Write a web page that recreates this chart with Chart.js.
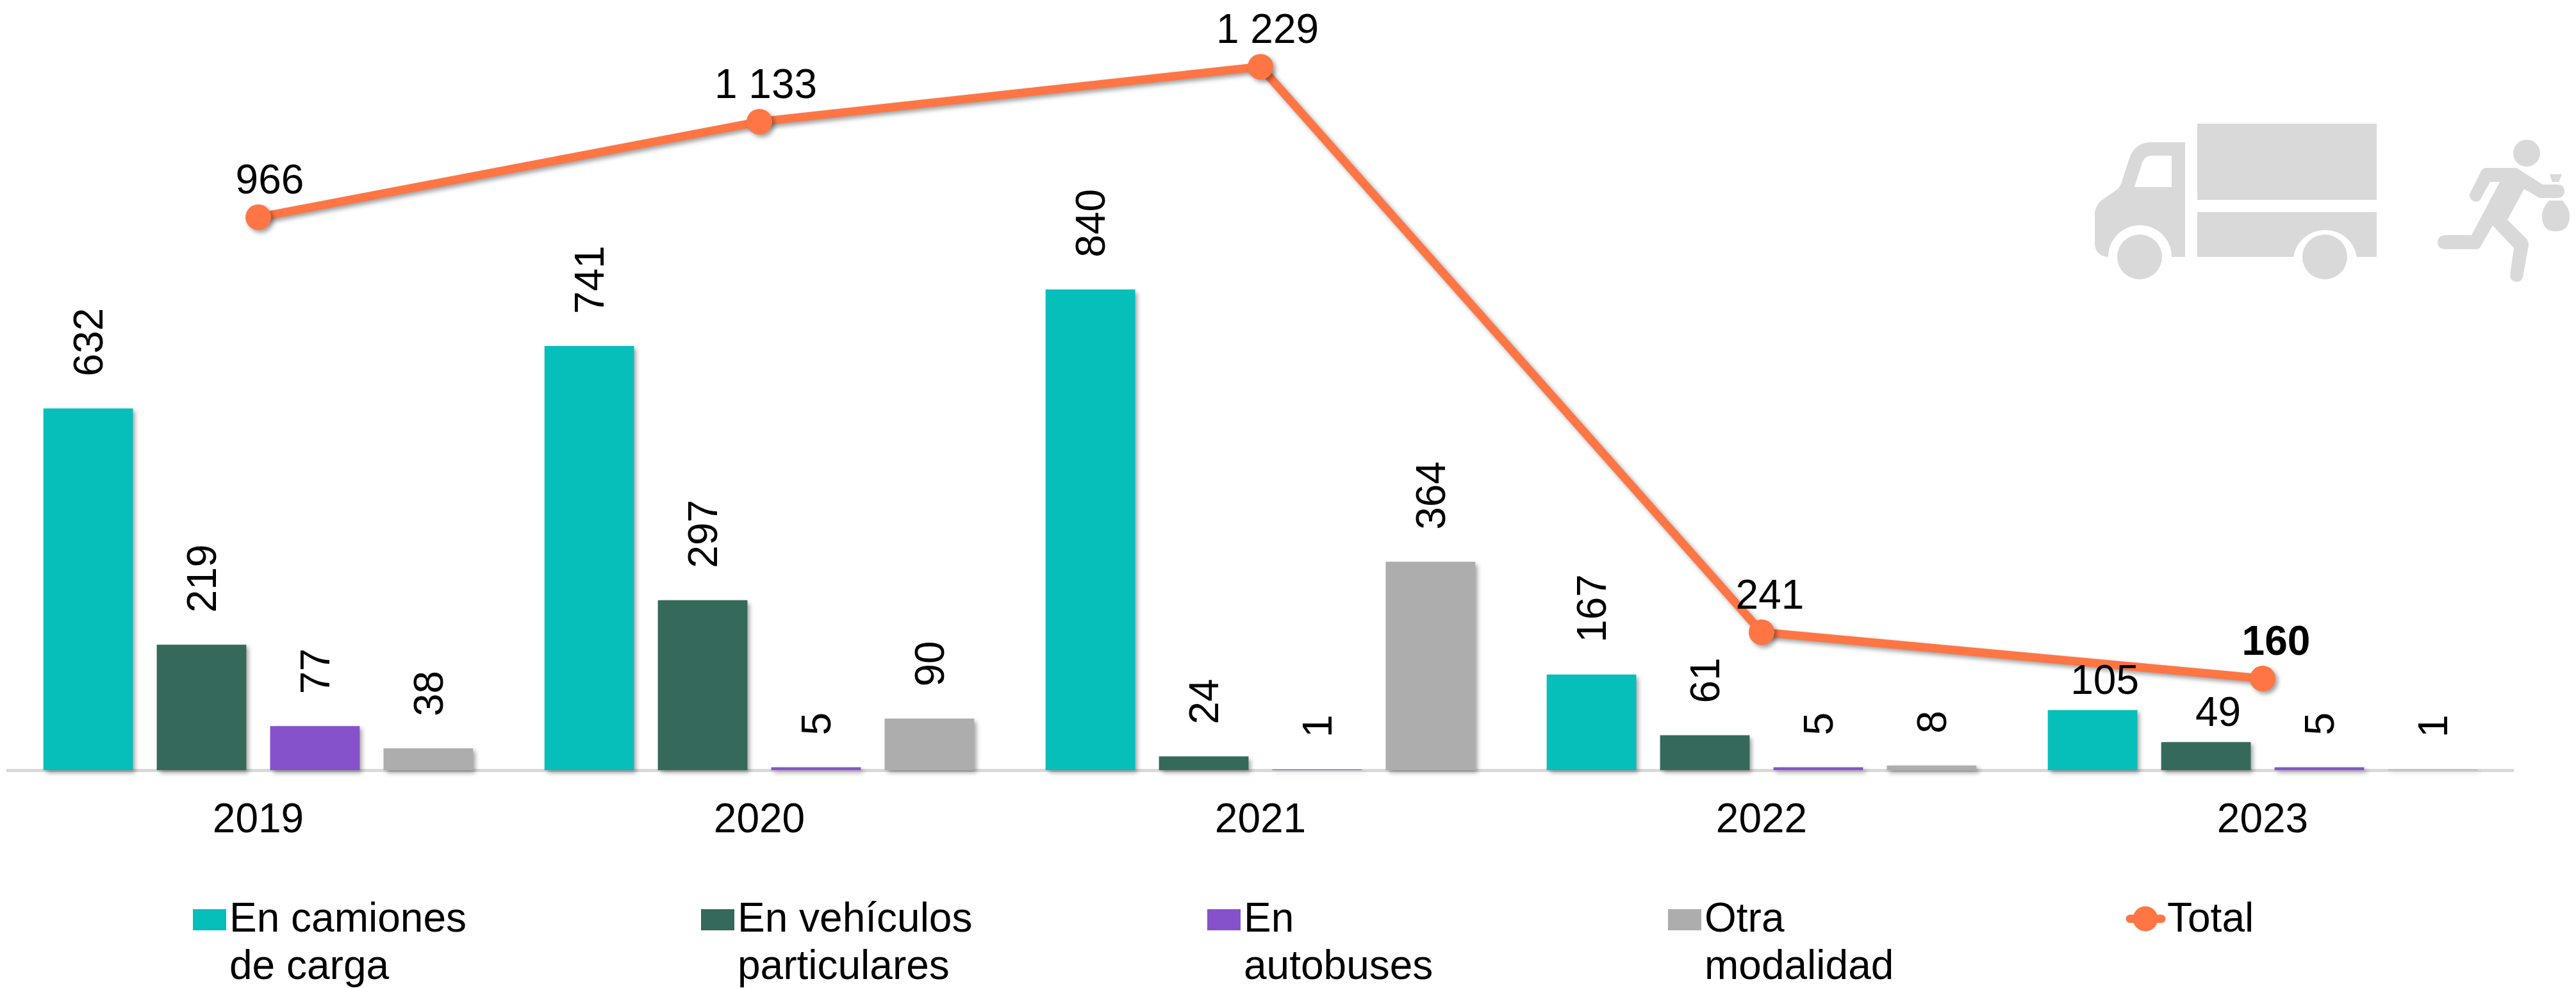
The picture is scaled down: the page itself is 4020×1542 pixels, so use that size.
<!DOCTYPE html>
<html><head><meta charset="utf-8">
<style>html,body{margin:0;padding:0;background:#fff;overflow:hidden}#w{position:relative;width:4020px;height:1542px}canvas{position:absolute;left:0;top:0}svg{position:absolute;left:0;top:0}</style>
<script src="https://cdn.jsdelivr.net/npm/chart.js@4/dist/chart.umd.min.js"></script>
</head><body><div id="w">
<canvas id="c" width="4020" height="1542"></canvas>
<svg width="4020" height="1542" viewBox="0 0 4020 1542"><g fill="#D9D9D9">
<rect x="3429" y="193" width="280" height="119"/>
<path d="M3429 331H3709V401H3678A50 49 0 0 0 3579 401H3429Z"/>
<circle cx="3339" cy="401" r="35"/><circle cx="3628" cy="401" r="35"/>
<path fill-rule="evenodd" d="M3410 222H3358Q3330 222 3322 250L3310 287Q3309 291 3305 295L3279 313Q3269 322 3269 335V380Q3269 399 3290 401A49 49 0 0 1 3389 401H3410ZM3389 243V292H3331L3342 257Q3346 243 3358 243Z"/>
<ellipse cx="3943" cy="239" rx="21" ry="21"/>
<path d="M3880 262H3927L3968 288H3992Q4002 289 4002 298Q4002 308 3992 309H3963L3939 295L3913 343L3943 373Q3947 378 3946 383L3937 433Q3935 440 3927 440Q3917 438 3917 430L3923 387L3890 352L3872 383Q3870 389 3863 389H3816Q3804 388 3804 378Q3804 368 3816 367H3857L3901 284H3886L3873 307Q3870 315 3864 315Q3853 313 3854 303L3872 267Q3875 262 3880 262Z"/>
<path d="M3979 272H3998L3993 284H3983Z"/>
<path d="M3978 313H3999Q4010 325 4010 337Q4010 361 3988 361Q3967 361 3967 337Q3967 325 3978 313Z"/>
</g></svg>
</div>
<script>
const categories=['2019','2020','2021','2022','2023'];
const camiones=[632,741,840,167,105];
const vehiculos=[219,297,24,61,49];
const autobuses=[77,5,1,5,5];
const otra=[38,90,364,8,1];
const total=[966,1133,1229,241,160];
const totalLabels=['966','1 133','1 229','241','160'];
const seriesNames=[['En camiones','de carga'],['En vehículos','particulares'],['En','autobuses'],['Otra','modalidad'],['Total']];
const colors=['#07BFBA','#35695B','#8652CC','#ADADAD','#FF7544'];
const legendX=[301,1094,1884,2603,3318];
const font='"Liberation Sans",Arial,sans-serif';
const FS=64;

const shadow={id:'shadow',
 beforeDatasetDraw(ch,a){const c=ch.ctx;c.save();c.shadowColor='rgba(0,0,0,.38)';c.shadowBlur=7;c.shadowOffsetX=4;c.shadowOffsetY=4;},
 afterDatasetDraw(ch){ch.ctx.restore();}};

const labels={id:'labels',afterDatasetsDraw(ch){
 const c=ch.ctx;c.save();c.fillStyle='#000';
 for(let d=0;d<4;d++){const m=ch.getDatasetMeta(d);const vals=ch.data.datasets[d].data;
  m.data.forEach((b,i)=>{
   const t=String(vals[i]);
   if(i===4&&d<2){
    c.font=FS+'px '+font;c.textAlign='center';c.textBaseline='alphabetic';
    c.fillText(t,b.x+19,b.y-25);return;}
   c.save();c.translate(b.x+5,b.y-50);c.rotate(-Math.PI/2);
   c.font=FS+'px '+font;c.textAlign='left';c.textBaseline='middle';c.fillText(t,0,0);c.restore();
  });}
 const off=[18,10,11,13,21];
 const m=ch.getDatasetMeta(4);
 m.data.forEach((p,i)=>{c.font=(i===4?'bold ':'')+FS+'px '+font;c.textAlign='center';c.textBaseline='alphabetic';
  c.fillText(totalLabels[i],p.x+off[i],p.y-37);});
 c.font=FS+'px '+font;c.textAlign='left';c.textBaseline='alphabetic';
 seriesNames.forEach((ls,i)=>{
  const x=legendX[i];
  if(i<4){c.fillStyle=colors[i];c.fillRect(x,1419,52,33);}
  else{c.strokeStyle=colors[4];c.lineWidth=13;c.lineCap='round';c.beginPath();c.moveTo(x+6,1434);c.lineTo(x+55,1434);c.stroke();
   c.fillStyle=colors[4];c.beginPath();c.arc(x+30,1434,19.5,0,Math.PI*2);c.fill();}
  c.fillStyle='#000';
  ls.forEach((l,j)=>c.fillText(l,x+(i<4?57:64),1454+j*74));
 });
 c.restore();
}};

new Chart(document.getElementById('c'),{
 type:'bar',
 data:{labels:categories,datasets:[
  {label:'En camiones de carga',data:camiones,backgroundColor:colors[0],order:2,clip:false},
  {label:'En vehículos particulares',data:vehiculos,backgroundColor:colors[1],order:2,clip:false},
  {label:'En autobuses',data:autobuses,backgroundColor:colors[2],order:2,clip:false},
  {label:'Otra modalidad',data:otra,backgroundColor:colors[3],order:2,clip:false},
  {type:'line',label:'Total',data:total,borderColor:colors[4],backgroundColor:colors[4],borderWidth:13,pointRadius:20,pointBackgroundColor:colors[4],pointBorderWidth:0,tension:0,order:1,clip:false}
 ]},
 options:{responsive:false,animation:false,devicePixelRatio:1,
  layout:{autoPadding:false,padding:{left:12,right:98,top:0,bottom:0}},
  datasets:{bar:{categoryPercentage:0.905,barPercentage:0.79}},
  plugins:{legend:{display:false},tooltip:{enabled:false},title:{display:false}},
  scales:{
   x:{grid:{display:false},border:{display:true,color:'#D9D9D9',width:5},
      ticks:{color:'#000',font:{family:font,size:FS},padding:33,maxRotation:0},
      afterFit(s){s.height=340;}},
   y:{display:false,min:0,max:1345.6}
  }},
 plugins:[shadow,labels]
});
</script></body></html>
